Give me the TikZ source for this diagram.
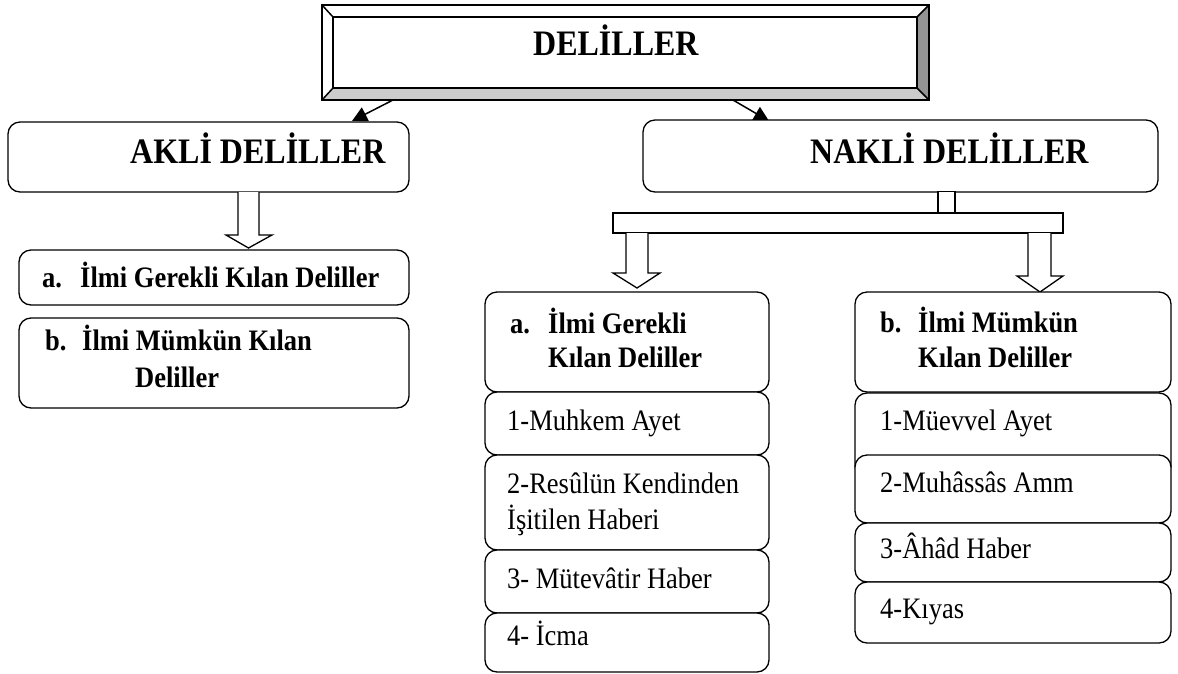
\documentclass[tikz,border=0pt]{standalone}
\usepackage{fontspec}
\setmainfont{Liberation Serif}
\usetikzlibrary{arrows.meta}
\begin{document}
\begin{tikzpicture}[x=1pt,y=-1pt,
  rbox/.style={draw, line width=1.3pt, rounded corners=12pt, fill=white, rectangle, inner sep=0pt},
  bevline/.style={draw, line width=1.5pt},
  txt/.style={anchor=base west, inner sep=0pt, yscale=1.12, transform shape},
  big/.style={txt, font=\bfseries\fontsize{32}{36}\selectfont},
  bt/.style={txt, font=\bfseries\fontsize{26.5}{30}\selectfont},
  rt/.style={txt, font=\fontsize{26.5}{30}\selectfont},
  thin arrow/.style={line width=1.5pt, -{Triangle[length=15pt,width=15pt]}},
  hollow/.style={draw, line width=1.3pt, fill=white, line join=miter}
]
\useasboundingbox (0,0) rectangle (1178,673);

% ---- top bevelled box
\coordinate (o1) at (322,5);  \coordinate (o2) at (929,100);
\coordinate (i1) at (333,17); \coordinate (i2) at (917,88);
\fill[white] (o1) rectangle (o2);
\fill[black!20] (322,100) -- (929,100) -- (917,88) -- (333,88) -- cycle;
\fill[black!42] (929,5) -- (929,100) -- (917,88) -- (917,17) -- cycle;
\draw[bevline] (o1) rectangle (o2);
\draw[bevline] (i1) rectangle (i2);
\draw[bevline] (322,5) -- (333,17) (929,5) -- (917,17) (322,100) -- (333,88) (929,100) -- (917,88);
\node[big] (t0) at (533,55) {DELİLLER};

% ---- thin arrows from top box
\coordinate (sL) at (393,100);
\coordinate (eL) at (352,121);
\coordinate (sR) at (733,100);
\coordinate (eR) at (769,121);
\draw[thin arrow] (sL) -- (eL);
\draw[thin arrow] (sR) -- (eR);

% ---- AKLI side
\node[rbox, minimum width=401pt, minimum height=70pt] (akli) at (208.5,157) {};
\node[big] (takli) at (130,163) {AKLİ DELİLLER};

\draw[hollow] (238,192) -- (238,235) -- (226,235) -- (248.5,248) -- (272,235) -- (259,235) -- (259,192);

\node[rbox, minimum width=390pt, minimum height=55pt] (la) at (214,277.5) {};
\node[bt] (tla1) at (42,287) {a.};
\node[bt] (tla2) at (80,287) {İlmi Gerekli Kılan Deliller};

\node[rbox, minimum width=390pt, minimum height=90pt] (lb) at (214,363) {};
\node[bt] (tlb1) at (45,350) {b.};
\node[bt] (tlb2) at (82,350) {İlmi Mümkün Kılan};
\node[bt] (tlb3) at (135,387) {Deliller};

% ---- NAKLI side
\node[rbox, minimum width=515pt, minimum height=72pt] (nakli) at (900.5,156) {};
\node[big] (tnakli) at (810,163) {NAKLİ DELİLLER};

\draw[hollow] (938,191.5) rectangle (955,213);
\draw[hollow] (613,213) rectangle (1063,233);
\draw[hollow] (626,233) -- (626,273) -- (613,273) -- (637,288) -- (660,273) -- (648,273) -- (648,233);
\draw[hollow] (1028,233) -- (1028,276) -- (1017,276) -- (1040,292) -- (1063,276) -- (1051,276) -- (1051,233);

% middle column
\node[rbox, minimum width=284pt, minimum height=100pt] (ma) at (627,342) {};
\node[bt] (tma1) at (510,333) {a.};
\node[bt] (tma2) at (548,333) {İlmi Gerekli};
\node[bt] (tma3) at (548,367) {Kılan Deliller};

\node[rbox, minimum width=284pt, minimum height=63pt] (m1) at (627,423.5) {};
\node[rt] (tm1) at (507,430) {1-Muhkem Ayet};
\node[rbox, minimum width=284pt, minimum height=95pt] (m2) at (627,502.5) {};
\node[rt] (tm2a) at (507,493) {2-Resûlün Kendinden};
\node[rt] (tm2b) at (507,529) {İşitilen Haberi};
\node[rbox, minimum width=284pt, minimum height=63pt] (m3) at (627,581.5) {};
\node[rt] (tm3) at (507,588) {3- Mütevâtir Haber};
\node[rbox, minimum width=284pt, minimum height=59pt] (m4) at (627,642.5) {};
\node[rt] (tm4) at (507,645) {4- İcma};

% right column
\node[rbox, minimum width=316pt, minimum height=100pt] (ra) at (1013,342) {};
\node[bt] (tra1) at (880,332) {b.};
\node[bt] (tra2) at (918,332) {İlmi Mümkün};
\node[bt] (tra3) at (918,367) {Kılan Deliller};

\node[rbox, minimum width=316pt, minimum height=85pt] (r1) at (1013,435.5) {};
\node[rt] (tr1) at (880,430) {1-Müevvel Ayet};
\node[rbox, minimum width=316pt, minimum height=68pt] (r2) at (1013,489) {};
\node[rt] (tr2) at (880,492) {2-Muhâssâs Amm};
\node[rbox, minimum width=316pt, minimum height=59pt] (r3) at (1013,552.5) {};
\node[rt] (tr3) at (880,558) {3-Âhâd Haber};
\node[rbox, minimum width=316pt, minimum height=61pt] (r4) at (1013,612.5) {};
\node[rt] (tr4) at (880,618) {4-Kıyas};
\end{tikzpicture}
\end{document}
